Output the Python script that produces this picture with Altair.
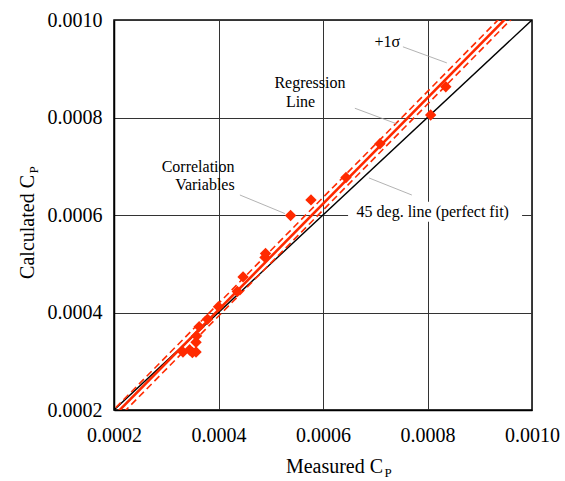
import altair as alt
import pandas as pd

# ---- data ----
measured = [0.000332, 0.000345, 0.000350, 0.000357, 0.000357, 0.000358, 0.000363,
            0.000379, 0.000400, 0.000436, 0.000447, 0.000489, 0.000490, 0.000538,
            0.000577, 0.000644, 0.000709, 0.000806, 0.000835]
calculated = [0.000319, 0.000323, 0.000318, 0.000319, 0.000339, 0.000352, 0.000371,
              0.000386, 0.000412, 0.000443, 0.000473, 0.000513, 0.000521, 0.000599,
              0.000631, 0.000677, 0.000746, 0.000805, 0.000863]

reg_slope = 1.087
reg_intercept = -0.0000293
sigma = 0.000013
line_x = [0.0001, 0.0011]

tick_values = [0.0002, 0.0004, 0.0006, 0.0008, 0.0010]

# annotations (data-space anchors)
anno_text = ["+1σ", "Regression", "Line", "Correlation", "Variables", "45 deg. line (perfect fit)"]
anno_x = [0.000723, 0.000575, 0.000557, 0.000361, 0.000374, 0.000810]
anno_y = [0.000955, 0.000871, 0.000832, 0.000699, 0.000662, 0.000606]

leader_x1 = [0.000753, 0.000661, 0.000441, 0.000688]
leader_y1 = [0.000945, 0.000819, 0.000641, 0.000676]
leader_x2 = [0.000837, 0.000741, 0.000527, 0.000770]
leader_y2 = [0.000912, 0.000787, 0.000603, 0.000641]

box_x = [0.000648]
box_x2 = [0.000981]
box_y = [0.000627]
box_y2 = [0.000586]

x_title = ["Measured C"]
x_title_pos = [0.000715, 0.0000708]
x_sub_pos = [0.0007177, 0.0000626]
y_title = ["Calculated C"]
y_title_pos = [0.0000478, 0.000682]
y_sub_pos = [0.0000536, 0.000685]

FONT = "Liberation Serif"
RED = "#FF2A00"

pts = pd.DataFrame({"m": measured, "c": calculated})
lines = pd.DataFrame({
    "x": line_x,
    "perfect": line_x,
    "reg": [reg_intercept + reg_slope * v for v in line_x],
})
lines["up"] = lines["reg"] + sigma
lines["lo"] = lines["reg"] - sigma

xs = alt.Scale(domain=[0.0002, 0.0010], nice=False, zero=False)
ys = alt.Scale(domain=[0.0002, 0.0010], nice=False, zero=False)

xaxis = alt.Axis(values=tick_values, format=".4f", title=None, grid=True, ticks=False,
                 labelPadding=15, labelFontSize=20, labelFont=FONT, labelFlush=False,
                 labelOverlap=False)
yaxis = alt.Axis(values=tick_values, format=".4f", title=None, grid=True, ticks=False,
                 labelPadding=12, labelFontSize=20, labelFont=FONT, labelFlush=False,
                 labelOverlap=False)

base_lines = alt.Chart(lines)

perfect = base_lines.mark_line(color="black", strokeWidth=1.4, clip=True).encode(
    x=alt.X("x:Q", scale=xs, axis=xaxis), y=alt.Y("perfect:Q", scale=ys, axis=yaxis))
reg = base_lines.mark_line(color=RED, strokeWidth=2.6, clip=True).encode(
    x=alt.X("x:Q", scale=xs), y=alt.Y("reg:Q", scale=ys))
up = base_lines.mark_line(color=RED, strokeWidth=1.6, strokeDash=[7, 4], clip=True).encode(
    x=alt.X("x:Q", scale=xs), y=alt.Y("up:Q", scale=ys))
lo = base_lines.mark_line(color=RED, strokeWidth=1.6, strokeDash=[7, 4], clip=True).encode(
    x=alt.X("x:Q", scale=xs), y=alt.Y("lo:Q", scale=ys))

points = alt.Chart(pts).mark_point(shape="diamond", filled=True, color=RED, size=130, opacity=1).encode(
    x=alt.X("m:Q", scale=xs), y=alt.Y("c:Q", scale=ys))

box = alt.Chart(pd.DataFrame({"x": box_x, "x2": box_x2, "y": box_y, "y2": box_y2})).mark_rect(
    color="white").encode(x=alt.X("x:Q", scale=xs), x2="x2:Q", y=alt.Y("y:Q", scale=ys), y2="y2:Q")

leaders = alt.Chart(pd.DataFrame({"x": leader_x1, "y": leader_y1, "x2": leader_x2, "y2": leader_y2})).mark_rule(
    color="#a0a0a0", strokeWidth=0.8).encode(
    x=alt.X("x:Q", scale=xs), y=alt.Y("y:Q", scale=ys), x2="x2:Q", y2="y2:Q")

annos = alt.Chart(pd.DataFrame({"t": anno_text, "x": anno_x, "y": anno_y})).mark_text(
    font=FONT, fontSize=16, color="black", align="center", baseline="middle").encode(
    x=alt.X("x:Q", scale=xs), y=alt.Y("y:Q", scale=ys), text="t:N")

xt = alt.Chart(pd.DataFrame({"t": x_title, "x": [x_title_pos[0]], "y": [x_title_pos[1]]})).mark_text(
    font=FONT, fontSize=20, color="black", align="right", baseline="alphabetic").encode(
    x=alt.X("x:Q", scale=xs), y=alt.Y("y:Q", scale=ys), text="t:N")
xsub = alt.Chart(pd.DataFrame({"t": ["P"], "x": [x_sub_pos[0]], "y": [x_sub_pos[1]]})).mark_text(
    font=FONT, fontSize=13, color="black", align="left", baseline="alphabetic").encode(
    x=alt.X("x:Q", scale=xs), y=alt.Y("y:Q", scale=ys), text="t:N")
yt = alt.Chart(pd.DataFrame({"t": y_title, "x": [y_title_pos[0]], "y": [y_title_pos[1]]})).mark_text(
    font=FONT, fontSize=20, color="black", align="right", baseline="alphabetic", angle=270).encode(
    x=alt.X("x:Q", scale=xs), y=alt.Y("y:Q", scale=ys), text="t:N")
ysub = alt.Chart(pd.DataFrame({"t": ["P"], "x": [y_sub_pos[0]], "y": [y_sub_pos[1]]})).mark_text(
    font=FONT, fontSize=13, color="black", align="left", baseline="alphabetic", angle=270).encode(
    x=alt.X("x:Q", scale=xs), y=alt.Y("y:Q", scale=ys), text="t:N")

chart = alt.layer(perfect, box, up, lo, reg, points, leaders, annos, xt, xsub, yt, ysub).properties(
    width=418, height=390, autosize="none",
    padding={"left": 114, "top": 20, "right": 33, "bottom": 71},
    background="white",
).configure_view(stroke="black", strokeWidth=1.5).configure_axis(
    labelFont=FONT, labelColor="black", gridColor="#333333", gridWidth=1, gridOpacity=1,
    domainColor="black", domainWidth=1.5,
)

chart.save("out.html", embed_options={"renderer": "svg", "actions": False})
